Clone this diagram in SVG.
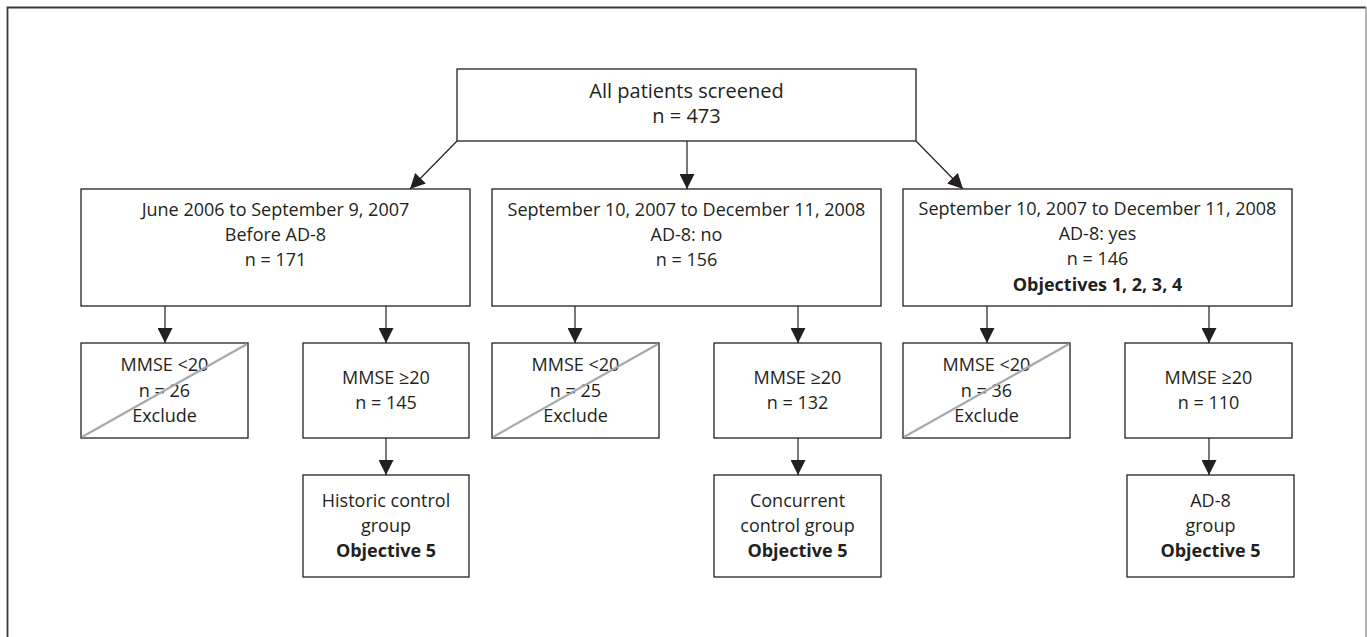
<svg xmlns="http://www.w3.org/2000/svg" width="1367" height="637" viewBox="0 0 1367 637">
<defs>
<style>
.box{fill:#fff;stroke:#231f20;stroke-width:1.3}
.t{font-family:"Open Sans","Liberation Sans",sans-serif;font-size:18px;fill:#231f20;text-anchor:middle}
.tt{font-size:20px}
.b{font-weight:bold}
.con{stroke:#231f20;stroke-width:1.2;fill:none;marker-end:url(#ah)}
.slash{stroke:#a7a9ac;stroke-width:2.2}
</style>
<marker id="ah" viewBox="0 0 15 15" refX="15" refY="7.5" markerWidth="15" markerHeight="15" markerUnits="userSpaceOnUse" orient="auto">
<path d="M0,0 L15,7.5 L0,15 Z" fill="#231f20"/>
</marker>
</defs>
<rect width="1367" height="637" fill="#fff"/>
<path d="M7.5,637 V7.5 H1366" fill="none" stroke="#3a3a3a" stroke-width="1.8"/>
<path d="M1366,7.5 V637" fill="none" stroke="#9a9a9a" stroke-width="1.5"/>

<g id="connectors">
<line class="con" x1="457" y1="141" x2="410" y2="189"/>
<line class="con" x1="687" y1="141" x2="687" y2="189"/>
<line class="con" x1="916" y1="141" x2="963" y2="189"/>
<line class="con" x1="165" y1="306" x2="165" y2="343"/>
<line class="con" x1="386" y1="306" x2="386" y2="343"/>
<line class="con" x1="575" y1="306" x2="575" y2="343"/>
<line class="con" x1="798" y1="306" x2="798" y2="343"/>
<line class="con" x1="987" y1="306" x2="987" y2="343"/>
<line class="con" x1="1209" y1="306" x2="1209" y2="343"/>
<line class="con" x1="386" y1="438" x2="386" y2="475"/>
<line class="con" x1="798" y1="438" x2="798" y2="475"/>
<line class="con" x1="1209" y1="438" x2="1209" y2="475"/>
</g>

<g id="n-all">
<rect class="box" x="457" y="69" width="459" height="72"/>
<text class="t tt" x="686.5" y="98">All patients screened</text>
<text class="t tt" x="686.5" y="123">n = 473</text>
</g>

<g id="n-before">
<rect class="box" x="81" y="189" width="389" height="117"/>
<text class="t" x="275.5" y="216">June 2006 to September 9, 2007</text>
<text class="t" x="275.5" y="241">Before AD-8</text>
<text class="t" x="275.5" y="266">n = 171</text>
</g>

<g id="n-no">
<rect class="box" x="492" y="189" width="389" height="117"/>
<text class="t" x="686.5" y="216">September 10, 2007 to December 11, 2008</text>
<text class="t" x="686.5" y="241">AD-8: no</text>
<text class="t" x="686.5" y="266">n = 156</text>
</g>

<g id="n-yes">
<rect class="box" x="903" y="189" width="389" height="117"/>
<text class="t" x="1097.5" y="215">September 10, 2007 to December 11, 2008</text>
<text class="t" x="1097.5" y="240">AD-8: yes</text>
<text class="t" x="1097.5" y="265">n = 146</text>
<text class="t b" x="1097.5" y="291">Objectives 1, 2, 3, 4</text>
</g>

<g id="n-ex1">
<rect class="box" x="81" y="343" width="167" height="95"/>
<text class="t" x="164.5" y="371">MMSE &lt;20</text>
<text class="t" x="164.5" y="397">n = 26</text>
<text class="t" x="164.5" y="422">Exclude</text>
<line class="slash" x1="82" y1="437" x2="247" y2="344"/>
</g>

<g id="n-in1">
<rect class="box" x="303" y="343" width="166" height="95"/>
<text class="t" x="386" y="384">MMSE ≥20</text>
<text class="t" x="386" y="409">n = 145</text>
</g>

<g id="n-ex2">
<rect class="box" x="492" y="343" width="167" height="95"/>
<text class="t" x="575.5" y="371">MMSE &lt;20</text>
<text class="t" x="575.5" y="397">n = 25</text>
<text class="t" x="575.5" y="422">Exclude</text>
<line class="slash" x1="493" y1="437" x2="658" y2="344"/>
</g>

<g id="n-in2">
<rect class="box" x="714" y="343" width="167" height="95"/>
<text class="t" x="797.5" y="384">MMSE ≥20</text>
<text class="t" x="797.5" y="409">n = 132</text>
</g>

<g id="n-ex3">
<rect class="box" x="903" y="343" width="167" height="95"/>
<text class="t" x="986.5" y="371">MMSE &lt;20</text>
<text class="t" x="986.5" y="397">n = 36</text>
<text class="t" x="986.5" y="422">Exclude</text>
<line class="slash" x1="904" y1="437" x2="1069" y2="344"/>
</g>

<g id="n-in3">
<rect class="box" x="1125" y="343" width="167" height="95"/>
<text class="t" x="1208.5" y="384">MMSE ≥20</text>
<text class="t" x="1208.5" y="409">n = 110</text>
</g>

<g id="n-historic">
<rect class="box" x="303" y="475" width="166" height="102"/>
<text class="t" x="386" y="507">Historic control</text>
<text class="t" x="386" y="532">group</text>
<text class="t b" x="386" y="557">Objective 5</text>
</g>

<g id="n-concurrent">
<rect class="box" x="714" y="475" width="167" height="102"/>
<text class="t" x="797.5" y="507">Concurrent</text>
<text class="t" x="797.5" y="532">control group</text>
<text class="t b" x="797.5" y="557">Objective 5</text>
</g>

<g id="n-ad8">
<rect class="box" x="1127" y="475" width="167" height="102"/>
<text class="t" x="1210.5" y="507">AD-8</text>
<text class="t" x="1210.5" y="532">group</text>
<text class="t b" x="1210.5" y="557">Objective 5</text>
</g>
</svg>
